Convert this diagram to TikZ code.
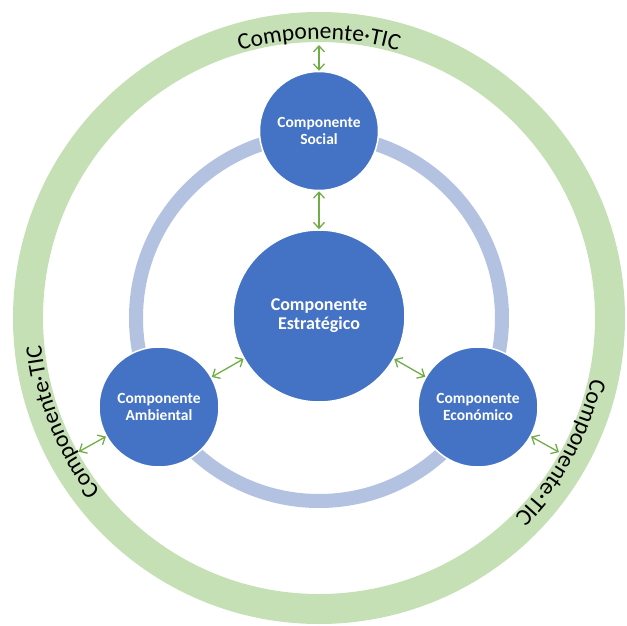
\documentclass[tikz,border=0pt]{standalone}
\usepackage{fontspec}
\setmainfont{Carlito}
\usetikzlibrary{arrows.meta,decorations.text}
\definecolor{compblue}{HTML}{4472C4}
\definecolor{ringblue}{HTML}{B4C2E2}
\definecolor{ringgreen}{HTML}{C5E0B4}
\definecolor{linkgreen}{HTML}{70AD47}
\begin{document}
\begin{tikzpicture}[x=1pt,y=1pt,
    comp/.style={circle,fill=compblue,draw=white,line width=1.5pt,text=white,
      align=center,inner sep=0pt,minimum size=#1,
      font=\bfseries\fontsize{15.5}{17.5}\selectfont},
    link/.style={draw=linkgreen,line width=1.3pt,
      {Straight Barb[length=6pt,width=11pt]}-{Straight Barb[length=6pt,width=11pt]}},
    tictext/.style={decorate,decoration={text along path,text align=center,
      text={|\fontsize{23.5}{28}\selectfont|Componente·TIC}}}]
  \useasboundingbox (-319,-307) rectangle (308,318);
  % anillos
  \draw[ringgreen,line width=30pt] (0,0) circle[radius=291];
  \draw[ringblue,line width=14pt] (0,0) circle[radius=183];
  % texto sobre el anillo exterior
  \path[tictext] (120:279) arc[start angle=120,end angle=60,radius=279];
  \path[tictext] (232:279) arc[start angle=232,end angle=172,radius=279];
  \path[tictext] (1:279) arc[start angle=1,end angle=-59,radius=279];
  % componentes
  \node[comp=172pt,font=\bfseries\fontsize{18}{19}\selectfont] (cen) at (0,2) {Componente\\Estratégico};
  \node[comp=119pt] (soc) at (0,187) {Componente\\Social};
  \node[comp=120pt] (amb) at (-160,-89) {Componente\\Ambiental};
  \node[comp=120pt] (eco) at (159,-89) {Componente\\Económico};
  % puntos del anillo TIC
  \coordinate (tic-n) at (90:273);
  \coordinate (tic-sw) at (209.1:275);
  \coordinate (tic-se) at (-29.2:275);
  % relaciones
  \draw[link] (soc) -- (tic-n);
  \draw[link] (soc) -- (cen);
  \draw[link] (cen) -- (amb);
  \draw[link] (cen) -- (eco);
  \draw[link] (amb) -- (tic-sw);
  \draw[link] (eco) -- (tic-se);
\end{tikzpicture}
\end{document}
